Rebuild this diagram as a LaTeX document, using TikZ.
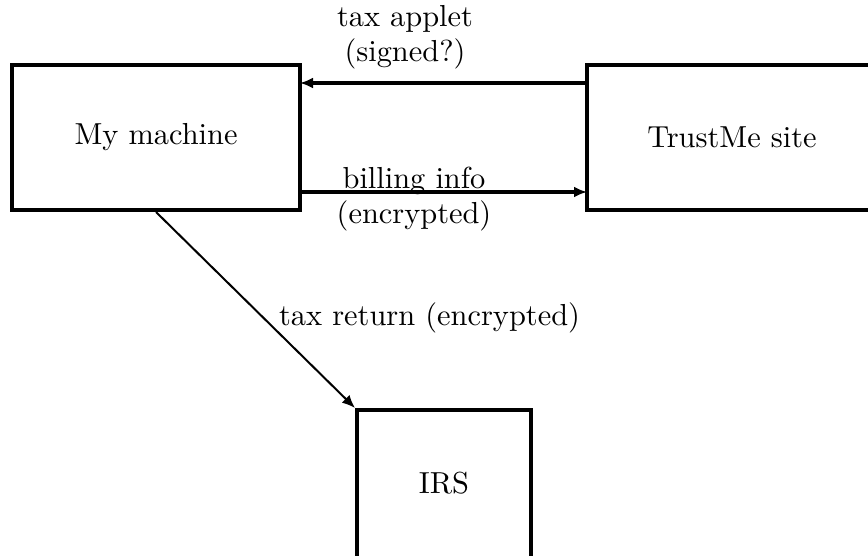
\documentclass[tikz,border=0pt]{standalone}
\usepackage{fontspec}
\newfontfamily\lmten{lmroman10-regular.otf}
\usepackage{tikz}
\usetikzlibrary{arrows.meta}

\begin{document}
\begin{tikzpicture}[x=0.5pt,y=-0.5pt,
        font=\lmten\fontsize{15.2}{17.5}\selectfont,
        site/.style={draw,line width=2pt,inner sep=0pt},
        flow/.style={line width=1.6pt,-{Latex[length=6.5pt,width=5.5pt]}}]
        \useasboundingbox (0,0) rectangle (868,556);

        \node[site,minimum width=144pt,minimum height=72.5pt] (mm) at (156,137.5) {My machine};
        \node[site,minimum width=145pt,minimum height=72.5pt] (ts) at (732,137.5) {TrustMe site};
        \node[site,minimum width=87pt,minimum height=90pt] (irs) at (444,500) {};
        \node (irst) at (444,483) {IRS};

        \coordinate (a) at (587,83);
        \coordinate (b) at (300,83);
        \coordinate (c) at (300,192);
        \coordinate (d) at (587,192);

        \draw[flow] (a)--(b);
        \draw[flow] (c)--(d);
        \draw[flow,line width=1pt] (mm.south)--(irs.north west);

        \node[align=center] (ta) at (405,37) {tax applet\\(signed?)};
        \node[align=center] (bi) at (414,199) {billing info\\(encrypted)};
        \node[anchor=west] (tr) at (272,318) {tax return (encrypted)};
    \end{tikzpicture}
\end{document}
